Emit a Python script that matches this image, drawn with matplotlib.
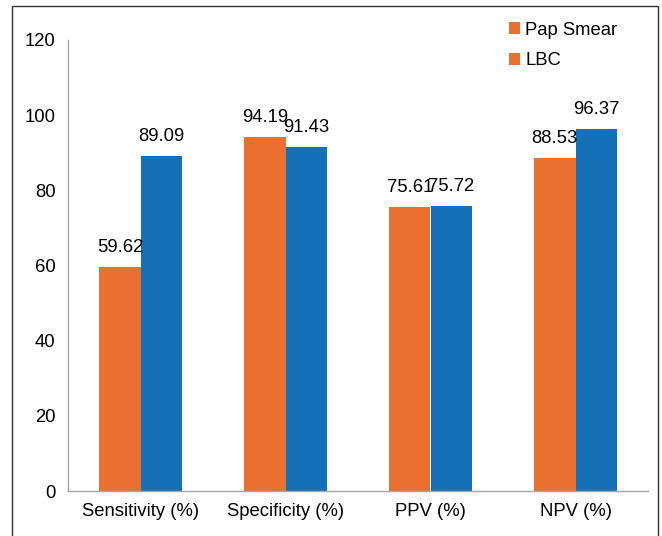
import numpy as np
import matplotlib.pyplot as plt
from matplotlib.patches import Patch, Rectangle

plt.rcParams['font.family'] = ['Liberation Sans', 'DejaVu Sans']

# Chart data.
categories = ['Sensitivity (%)', 'Specificity (%)', 'PPV (%)', 'NPV (%)']
pap_smear = [59.62, 94.19, 75.61, 88.53]
lbc = [89.09, 91.43, 75.72, 96.37]
pap_labels = ['59.62', '94.19', '75.61', '88.53']
lbc_labels = ['89.09', '91.43', '75.72', '96.37']

orange = '#EA7031'
blue = '#1570B8'
fs = 13.3

W, H = 662, 536
fig = plt.figure(figsize=(W / 100, H / 100), dpi=100)
ax = fig.add_axes([68 / W, 1 - 491 / H, (648 - 68) / W, (491 - 40) / H])

# Outer frame around the whole chart.
fig.patches.append(Rectangle((12 / W, -0.01), (658 - 12) / W, 1 - 6 / H + 0.01,
                             transform=fig.transFigure, fill=False,
                             edgecolor='#333333', linewidth=1.0))

x = np.arange(len(categories))
w = 0.285
b1 = ax.bar(x - w / 2, pap_smear, w, color=orange)
b2 = ax.bar(x + w / 2, lbc, w, color=blue)

for rect, lab in zip(b1, pap_labels):
    ax.text(rect.get_x() + rect.get_width() / 2, rect.get_height() + 3, lab,
            ha='center', va='bottom', fontsize=fs)
for rect, lab in zip(b2, lbc_labels):
    ax.text(rect.get_x() + rect.get_width() / 2, rect.get_height() + 3, lab,
            ha='center', va='bottom', fontsize=fs)

ax.set_xlim(-0.5, 3.5)
ax.set_ylim(0, 120)
ax.set_yticks(np.arange(0, 121, 20))
ax.set_xticks(x)
ax.set_xticklabels(categories, fontsize=fs)
ax.tick_params(axis='y', labelsize=fs, length=0, pad=9)
ax.tick_params(axis='x', length=0, pad=9)
for s in ['top', 'right']:
    ax.spines[s].set_visible(False)
for s in ['left', 'bottom']:
    ax.spines[s].set_color('#A6A6A6')
    ax.spines[s].set_linewidth(1.0)

handles = [Patch(facecolor=orange, label='Pap Smear'),
           Patch(facecolor=orange, label='LBC')]
fig.legend(handles=handles, loc='upper left', bbox_to_anchor=(492 / W, 1 - 5 / H),
           frameon=False, fontsize=fs, handlelength=0.6, handleheight=0.6,
           handletextpad=0.3, labelspacing=0.75)

fig.savefig('out.png', dpi=100)
